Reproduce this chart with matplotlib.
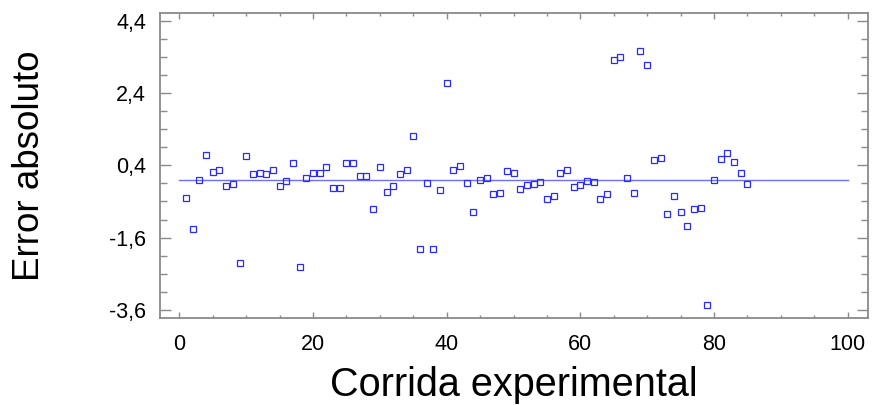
import numpy as np
import matplotlib
matplotlib.use('Agg')
import matplotlib.pyplot as plt
from matplotlib.ticker import FixedLocator, MultipleLocator, FuncFormatter

plt.rcParams['font.family'] = ['Liberation Sans', 'DejaVu Sans']

# datos: corrida experimental vs error absoluto
corrida = np.arange(1, 86)
error = [
    -0.50, -1.35, -0.02, 0.68, 0.22, 0.28, -0.16, -0.11, -2.31, 0.66,
    0.17, 0.18, 0.15, 0.28, -0.16, -0.04, 0.46, -2.40, 0.06, 0.20,
    0.20, 0.36, -0.22, -0.22, 0.46, 0.46, 0.10, 0.10, -0.82, 0.34,
    -0.34, -0.16, 0.15, 0.28, 1.22, -1.90, -0.08, -1.90, -0.28, 2.68,
    0.26, 0.39, -0.08, -0.88, 0.00, 0.05, -0.40, -0.36, 0.23, 0.20,
    -0.26, -0.14, -0.12, -0.06, -0.52, -0.46, 0.20, 0.27, -0.20, -0.14,
    -0.04, -0.06, -0.52, -0.40, 3.31, 3.40, 0.05, -0.36, 3.55, 3.16,
    0.56, 0.60, -0.94, -0.46, -0.88, -1.28, -0.82, -0.78, -3.45, 0.00,
    0.58, 0.73, 0.50, 0.18, -0.11,
]
linea_x = [0, 100]
linea_y = [0, 0]

yticks = [-3.6, -1.6, 0.4, 2.4, 4.4]
xticks = [0, 20, 40, 60, 80, 100]

fig = plt.figure(figsize=(8.72, 4.05), dpi=100)
ax = fig.add_axes([0.1835, 0.214, 0.8123, 0.753])

ax.plot(linea_x, linea_y, color='#6f6fff', lw=1.0, zorder=2)
ax.plot(corrida, error, 's', ms=4.2, mfc='none', mec='#2a2aff', mew=0.9, zorder=3)

ax.set_xlim(-2.9, 103.1)
ax.set_ylim(-3.83, 4.6)

ax.xaxis.set_major_locator(FixedLocator(xticks))
ax.xaxis.set_minor_locator(MultipleLocator(5))
ax.yaxis.set_major_locator(FixedLocator(yticks))
ax.yaxis.set_minor_locator(FixedLocator(np.arange(-3.6, 4.41, 0.5)))
ax.yaxis.set_major_formatter(FuncFormatter(lambda v, p: f'{v:.1f}'.replace('.', ',')))

for s in ax.spines.values():
    s.set_color('#8a8a8a')
    s.set_linewidth(1.3)

ax.tick_params(axis='both', which='both', direction='in', top=True, right=True,
               color='#8a8a8a', labelsize=15.5)
ax.tick_params(axis='x', which='major', length=4, width=1, pad=11)
ax.tick_params(axis='x', which='minor', length=2, width=1)
ax.tick_params(axis='y', which='major', length=8, width=1, pad=10)
ax.tick_params(axis='y', which='minor', length=5, width=1)

ax.set_xlabel('Corrida experimental', fontsize=28.5, labelpad=8)
ax.set_ylabel('Error absoluto', fontsize=26.5, labelpad=45)

fig.savefig('out.png', dpi=100)
